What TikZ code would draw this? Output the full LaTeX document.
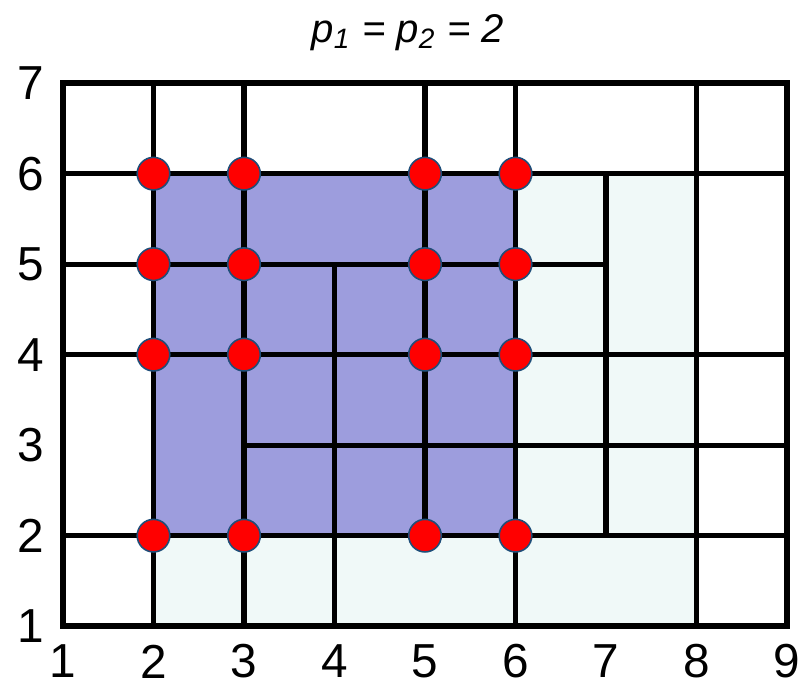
\documentclass[tikz,border=0pt]{standalone}
\usepackage{fontspec}
\setmainfont{Liberation Sans}
\usepackage{xcolor}
\definecolor{blockfill}{HTML}{9D9DDD}
\definecolor{haloFill}{HTML}{F0F9F8}
\definecolor{dotrim}{HTML}{1F4E79}

\begin{document}
\begin{tikzpicture}[
    grid/.style={line width=1.6pt, black},
    dot/.style={fill=red, draw=dotrim, line width=0.5pt},
    tick/.style={font=\fontsize{15}{15}\selectfont}
  ]
  \useasboundingbox (0.304,0.336) rectangle (9.199,7.919);

  % Shaded regions
  \fill[haloFill] (2,1) rectangle (8,2);
  \fill[haloFill] (6,2) rectangle (8,6);
  \fill[blockfill] (2,2) rectangle (6,6);

  % Horizontal lines
  \draw[grid] (1,6) -- (9,6);
  \draw[grid] (1,5) -- (7,5);
  \draw[grid] (1,4) -- (9,4);
  \draw[grid] (3,3) -- (9,3);
  \draw[grid] (1,2) -- (9,2);

  % Vertical lines
  \draw[grid] (2,1) -- (2,7);
  \draw[grid] (3,1) -- (3,7);
  \draw[grid] (4,1) -- (4,5);
  \draw[grid] (5,2) -- (5,7);
  \draw[grid] (6,1) -- (6,7);
  \draw[grid] (7,2) -- (7,6);
  \draw[grid] (8,1) -- (8,7);

  % Outer frame
  \draw[line width=1.9pt, line join=miter] (1,1) rectangle (9,7);

  % Red points
  \path[dot] (2,6) circle (0.18) (3,6) circle (0.18) (5,6) circle (0.18) (6,6) circle (0.18);
  \path[dot] (2,5) circle (0.18) (3,5) circle (0.18) (5,5) circle (0.18) (6,5) circle (0.18);
  \path[dot] (2,4) circle (0.18) (3,4) circle (0.18) (5,4) circle (0.18) (6,4) circle (0.18);
  \path[dot] (2,2) circle (0.18) (3,2) circle (0.18) (5,2) circle (0.18) (6,2) circle (0.18);

  % Axis numbers
  \foreach \i in {1,...,9}
    \node[tick] (xlab\i) at (\i,0.61) {\i};
  \foreach \j in {1,...,7}
    \node[tick] (ylab\j) at (0.64,\j) {\j};

  % Title
  \node[font=\fontsize{12.6}{12.6}\selectfont\itshape] (title) at (4.81,7.56)
    {p\textsubscript{1} = p\textsubscript{2} = 2};
\end{tikzpicture}
\end{document}
